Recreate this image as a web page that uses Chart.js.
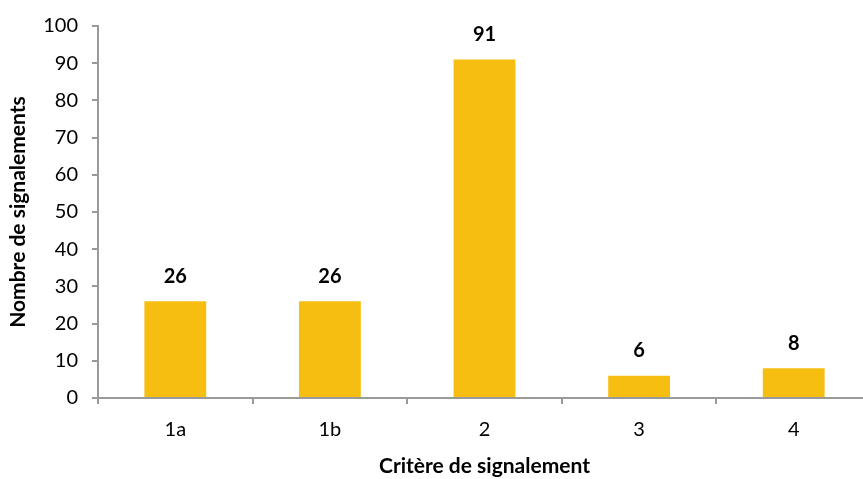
<!DOCTYPE html>
<html>
<head>
<meta charset="utf-8">
<script src="https://cdn.jsdelivr.net/npm/chart.js@4/dist/chart.umd.min.js"></script>
<style>
  html, body { margin: 0; padding: 0; background: #fff; overflow: hidden; }
  #wrap { width: 872px; height: 479px; }
</style>
</head>
<body>
<div id="wrap"><canvas id="c" width="872" height="479"></canvas></div>
<script>
const categories = ['1a', '1b', '2', '3', '4'];
const signalements = [26, 26, 91, 6, 8];
const yTicks = [0, 10, 20, 30, 40, 50, 60, 70, 80, 90, 100];

const FONT = 'Lato, "Open Sans", sans-serif';
const AXIS = '#9a9a9a';

// writes each bar's value above it
const valueLabels = {
  id: 'valueLabels',
  afterDatasetsDraw(chart) {
    const ctx = chart.ctx;
    const meta = chart.getDatasetMeta(0);
    ctx.save();
    ctx.font = 'bold 20px ' + FONT;
    ctx.fillStyle = '#000';
    ctx.textAlign = 'center';
    ctx.textBaseline = 'middle';
    meta.data.forEach((bar, i) => {
      ctx.fillText(String(signalements[i]), bar.x, bar.y - 25);
    });
    ctx.restore();
  }
};

new Chart(document.getElementById('c'), {
  type: 'bar',
  data: {
    labels: categories,
    datasets: [{
      data: signalements,
      backgroundColor: '#F7BE12',
      borderWidth: 0,
      categoryPercentage: 1,
      barPercentage: 0.4
    }]
  },
  options: {
    responsive: false,
    animation: false,
    events: [],
    layout: { padding: { top: 22, right: 1, left: 0, bottom: 0 } },
    plugins: { legend: { display: false }, tooltip: { enabled: false } },
    scales: {
      x: {
        grid: {
          offset: true,
          drawOnChartArea: false,
          drawTicks: true,
          tickLength: 6,
          color: AXIS,
          lineWidth: 2
        },
        border: { color: AXIS, width: 2 },
        ticks: { color: '#000', font: { family: FONT, size: 20 }, padding: 14 },
        title: {
          display: true,
          text: 'Critère de signalement',
          color: '#000',
          font: { family: FONT, size: 21, weight: 'bold' },
          padding: { top: 6, bottom: 0 }
        },
        afterFit(scale) { scale.height = 81; }
      },
      y: {
        min: 0,
        max: 100,
        afterBuildTicks(scale) { scale.ticks = yTicks.map(v => ({ value: v })); },
        grid: {
          drawOnChartArea: false,
          drawTicks: true,
          tickLength: 6,
          color: AXIS,
          lineWidth: 2
        },
        border: { color: AXIS, width: 2 },
        ticks: { color: '#000', font: { family: FONT, size: 20 }, padding: 14 },
        title: {
          display: true,
          text: 'Nombre de signalements',
          color: '#000',
          font: { family: FONT, size: 21, weight: 'bold' },
          padding: { top: 6, bottom: 4 }
        },
        afterFit(scale) { scale.width = 98; }
      }
    }
  },
  plugins: [valueLabels]
});
</script>
</body>
</html>
